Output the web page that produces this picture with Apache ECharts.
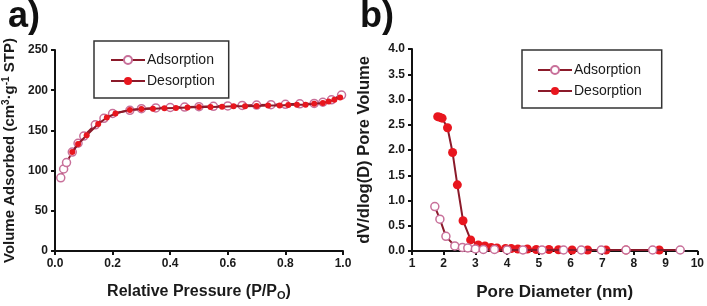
<!DOCTYPE html>
<html>
<head>
<meta charset="utf-8">
<script src="https://cdn.jsdelivr.net/npm/echarts@6/dist/echarts.min.js"></script>
<style>
  html, body { margin: 0; padding: 0; background: #fff; }
  #chart { width: 707px; height: 306px; }
</style>
</head>
<body>
<div id="chart"></div>
<script>
// panel a: isotherm
const isoAdsX = [0.02, 0.03, 0.04, 0.06, 0.08, 0.10, 0.14, 0.17, 0.20, 0.26, 0.30, 0.35, 0.40, 0.45, 0.50, 0.55, 0.60, 0.65, 0.70, 0.75, 0.80, 0.85, 0.90, 0.93, 0.96, 0.995];
const isoAdsY = [91, 102, 110, 123, 134, 143, 157, 165, 171, 175, 177, 178, 178.5, 179, 179.5, 180, 180.5, 181, 181.5, 182, 182.5, 183, 183.5, 185, 188, 194];
const isoDesX = [0.99, 0.97, 0.95, 0.93, 0.90, 0.87, 0.84, 0.81, 0.78, 0.74, 0.70, 0.66, 0.62, 0.58, 0.54, 0.50, 0.46, 0.42, 0.38, 0.34, 0.30, 0.26, 0.21, 0.18, 0.15, 0.11, 0.08, 0.06];
const isoDesY = [191, 188, 186, 184, 183, 182, 182, 181.5, 181, 181, 180.5, 180, 180, 179.5, 179, 179, 178.5, 178, 177.5, 177, 176.5, 175.5, 171, 166, 158, 144, 133, 123];

// panel b: pore size distribution
const psdAdsX = [1.72, 1.88, 2.07, 2.35, 2.59, 2.76, 3.0, 3.25, 3.6, 4.0, 4.5, 5.1, 5.78, 6.34, 6.97, 7.75, 8.59, 9.46];
const psdAdsY = [0.88, 0.63, 0.29, 0.10, 0.07, 0.06, 0.04, 0.03, 0.03, 0.02, 0.02, 0.02, 0.02, 0.02, 0.02, 0.02, 0.02, 0.02];
const psdDesX = [1.81, 1.87, 1.95, 2.12, 2.28, 2.43, 2.61, 2.85, 3.09, 3.3, 3.5, 3.68, 3.95, 4.13, 4.34, 4.64, 4.92, 5.32, 5.62, 6.05, 6.54, 7.12, 7.75, 8.8];
const psdDesY = [2.66, 2.65, 2.63, 2.44, 1.95, 1.31, 0.60, 0.22, 0.12, 0.10, 0.07, 0.06, 0.05, 0.05, 0.04, 0.04, 0.03, 0.03, 0.025, 0.02, 0.02, 0.02, 0.02, 0.02];

const seriesNames = ["Adsorption", "Desorption"];

const pairs = (xs, ys) => xs.map((x, i) => [x, ys[i]]);

const FONT = "Liberation Sans, Arial, sans-serif";
const LINE = "#8b1a2a";
const ADS_EDGE = "#c8709a";
const DES_FILL = "#e8161e";

const axisCommon = {
  axisLine: { show: true, lineStyle: { color: "#111", width: 2 } },
  axisTick: { show: true, length: 4, lineStyle: { color: "#111", width: 2 } },
  splitLine: { show: false },
  nameLocation: "middle",
  nameTextStyle: { fontFamily: FONT, fontWeight: "bold", fontSize: 16, color: "#1a1a1a" }
};
const labelStyle = { fontFamily: FONT, fontWeight: "bold", fontSize: 12, color: "#1a1a1a" };
const fmt1 = (v) => v.toFixed(1);

const legendCommon = {
  orient: "vertical",
  borderColor: "#333",
  borderWidth: 1.5,
  backgroundColor: "#fff",
  itemWidth: 34,
  itemHeight: 10,
  itemGap: 7,
  textStyle: { fontFamily: FONT, fontSize: 14, color: "#1a1a1a", padding: [0, 0, 0, -3] },
  data: seriesNames
};

const adsStyle = (size, z) => ({
  type: "line",
  symbol: "circle",
  symbolSize: size,
  lineStyle: { color: LINE, width: 2 },
  itemStyle: { color: "#fff", borderColor: ADS_EDGE, borderWidth: 1.5 },
  z: z
});
const desStyle = (size, z) => ({
  type: "line",
  symbol: "circle",
  symbolSize: size,
  lineStyle: { color: LINE, width: 2 },
  itemStyle: { color: DES_FILL, borderColor: DES_FILL, borderWidth: 0 },
  z: z
});

const chart = echarts.init(document.getElementById("chart"));

chart.setOption({
  animation: false,
  grid: [
    { left: 54, top: 50, width: 289, height: 210 },
    { left: 412, top: 49, width: 286, height: 210 }
  ],
  xAxis: [
    Object.assign({}, axisCommon, {
      gridIndex: 0, type: "value", min: 0, max: 1, interval: 0.2,
      name: "Relative Pressure (P/P{sub|O})", nameGap: 32,
      nameTextStyle: Object.assign({}, axisCommon.nameTextStyle, {
        rich: { sub: { fontFamily: FONT, fontWeight: "bold", fontSize: 11, verticalAlign: "bottom", padding: [7, 0, 0, 0], color: "#1a1a1a" } }
      }),
      axisLabel: Object.assign({}, labelStyle, { margin: 7, formatter: fmt1 })
    }),
    Object.assign({}, axisCommon, {
      gridIndex: 1, type: "value", min: 1, max: 10, interval: 1,
      name: "Pore Diameter (nm)", nameGap: 33,
      nameTextStyle: Object.assign({}, axisCommon.nameTextStyle, { fontSize: 17 }),
      axisLabel: Object.assign({}, labelStyle, { margin: 7 })
    })
  ],
  yAxis: [
    Object.assign({}, axisCommon, {
      gridIndex: 0, type: "value", min: 0, max: 250, interval: 50,
      name: "Volume Adsorbed (cm{sup|3}·g{sup|-1} STP)", nameGap: 37,
      nameTextStyle: Object.assign({}, axisCommon.nameTextStyle, {
        fontSize: 15,
        rich: { sup: { fontFamily: FONT, fontWeight: "bold", fontSize: 10, verticalAlign: "top", padding: [0, 0, 7, 0], color: "#1a1a1a" } }
      }),
      axisLabel: Object.assign({}, labelStyle, { margin: 7 })
    }),
    Object.assign({}, axisCommon, {
      gridIndex: 1, type: "value", min: 0, max: 4, interval: 0.5,
      name: "dV/dlog(D) Pore Volume", nameGap: 39,
      nameTextStyle: Object.assign({}, axisCommon.nameTextStyle, { fontSize: 16.5 }),
      axisLabel: Object.assign({}, labelStyle, { margin: 7, formatter: fmt1 })
    })
  ],
  legend: [
    Object.assign({}, legendCommon, { left: 94, top: 41, padding: [12, 14, 10, 16] }),
    Object.assign({}, legendCommon, { left: 522, top: 50, padding: [13, 20, 10, 15] })
  ],
  graphic: [
    { type: "text", left: 8, top: -1, style: { text: "a)", font: "bold 36px " + FONT, fill: "#111" } },
    { type: "text", left: 360, top: -1, style: { text: "b)", font: "bold 36px " + FONT, fill: "#111" } }
  ],
  series: [
    Object.assign(adsStyle(8, 2), { name: "Adsorption", xAxisIndex: 0, yAxisIndex: 0, data: pairs(isoAdsX, isoAdsY) }),
    Object.assign(desStyle(6, 3), { name: "Desorption", xAxisIndex: 0, yAxisIndex: 0, data: pairs(isoDesX, isoDesY) }),
    Object.assign(adsStyle(8, 3), { name: "Adsorption", xAxisIndex: 1, yAxisIndex: 1, data: pairs(psdAdsX, psdAdsY) }),
    Object.assign(desStyle(9, 2), { name: "Desorption", xAxisIndex: 1, yAxisIndex: 1, data: pairs(psdDesX, psdDesY) })
  ]
});
</script>
</body>
</html>
